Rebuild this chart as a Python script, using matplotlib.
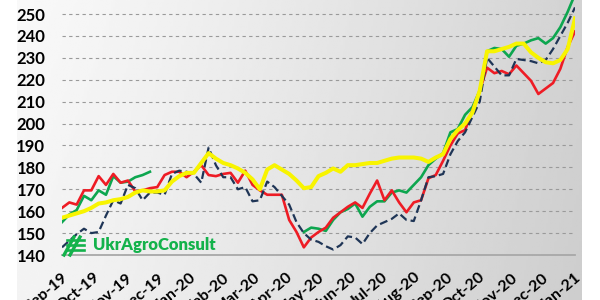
import numpy as np
import pandas as pd
import matplotlib.pyplot as plt
from matplotlib.lines import Line2D

plt.rcParams['font.family'] = ['Lato', 'DejaVu Sans']

# weekly quotes, Sep-19 .. Jan-21
dates = pd.date_range("2019-09-01", "2021-01-01", periods=71)

red = [161.5, 164, 163, 169.5, 169.5, 176, 172, 177, 173, 174,
       169, 169.5, 170.5, 171, 176.5, 178, 178, 175.5, 178, 181,
       176.5, 176, 177, 177.5, 173, 178.5, 172, 169.5, 167.5, 167.5,
       167.5, 156, 150.5, 143.5, 148, 150.5, 152.5, 157, 159.5, 162,
       164, 161.5, 168, 174, 165, 169.5, 164, 159.5, 164, 165,
       175, 176.5, 183, 190, 195.5, 197, 206, 215, 225.5, 223,
       224, 222.5, 226.5, 223, 219.5, 213.5, 216, 218.5, 225, 235,
       242]

navy = [143.5, 146.5, 149.5, 152, 150, 150.5, 158, 165, 163.5, 172,
        170.5, 165, 168.5, 168.5, 167.5, 177, 178.5, 178, 177, 173,
        189, 181, 175.5, 175.5, 170, 171, 164.5, 165, 173.5, 171,
        167, 163, 155, 150, 147, 146, 144, 142.5, 144.5, 148.5,
        148, 145, 150, 153.5, 155, 156.5, 159, 156, 155.5, 165,
        175.5, 176, 177, 186, 192, 196, 203, 210, 230, 226,
        222, 222, 229.5, 229, 228.5, 227.5, 229, 234, 240, 246,
        253]

green = [155, 158.5, 160.5, 167, 165, 169.5, 167.5, 176, 173, 173.5,
         175.5, 176.5, 178] + [np.nan] * 20 + [
         150.5, 152.5, 152, 151, 156, 159.5, 161, 163.5, 157.5, 162,
         164.5, 164.5, 168.5, 169.5, 168.5, 172, 175.5, 181, 184, 186.5,
         196, 197.5, 204, 207.5, 215, 233, 234.5, 234, 230.5, 235.5,
         236.5, 238, 239, 236.5, 239, 244, 251, 259]

yellow = [157, 158, 159, 160, 161.5, 163.5, 164, 165, 165.5, 166.5,
          168.5, 169.5, 169, 169, 169.5, 173.5, 176, 177.5, 177.5, 182,
          186.5, 184, 182, 181, 179.5, 177.5, 174.5, 170, 179, 181,
          179, 177, 174, 170.5, 171, 176, 177.5, 179.5, 178, 181,
          181, 181.5, 182, 182, 183, 184, 184.5, 184.5, 184.5, 184,
          182.5, 184.5, 186, 193, 197, 200, 205, 215, 233, 233,
          234, 235, 236.5, 236.5, 232.5, 230, 228, 227.5, 229, 234,
          248]

month_ticks = pd.date_range("2019-09-01", "2021-01-01", freq="MS")
month_labels = [d.strftime("%b-%y") for d in month_ticks]
y_ticks = list(range(140, 251, 10))

fig = plt.figure(figsize=(6, 3), dpi=100)

# gradient backdrop
bg = fig.add_axes([17 / 600, 0, 565 / 600, 1], zorder=-10)
gx = np.linspace(0, 1, 256)
gy = np.linspace(0, 1, 64)
grad = 0.975 - 0.15 * gx[None, :] ** 1.2 - 0.02 * gy[:, None]
bg.imshow(grad, cmap="gray", vmin=0, vmax=1, aspect="auto",
          extent=[0, 1, 0, 1])
bg.axis("off")

ax = fig.add_axes([62 / 600, 45 / 300, 513 / 600, 255 / 300])
ax.patch.set_alpha(0)

ax.plot(dates, green, color="#0DA64F", linewidth=1.9, zorder=3)
ax.plot(dates, red, color="#EE1C25", linewidth=1.9, zorder=4)
ax.plot(dates, navy, color="#1F3556", linewidth=1.6,
        linestyle=(0, (3.6, 1.8)), zorder=5)
ax.plot(dates, yellow, color="#F8F400", linewidth=2.9, zorder=6)

ax.set_xlim(month_ticks[0], month_ticks[-1])
ax.set_ylim(140, 256.4)
ax.set_yticks(y_ticks)
ax.set_yticklabels([str(v) for v in y_ticks], fontsize=12,
                   fontweight="bold")
ax.set_xticks(month_ticks)
ax.set_xticklabels(month_labels, rotation=40, ha="right",
                   rotation_mode="anchor", fontsize=11.5, fontweight="bold")
ax.tick_params(axis="both", length=0)
ax.tick_params(axis="y", pad=12)
ax.tick_params(axis="x", pad=11)

for v in y_ticks[1:]:
    ax.axhline(v, color="#9A9A9A", linewidth=0.8,
               linestyle=(0, (3, 3)), zorder=1)

for side in ["top", "right", "left"]:
    ax.spines[side].set_visible(False)
ax.spines["bottom"].set_color("#A8A8A8")
ax.spines["bottom"].set_linewidth(1.3)

# logo
logo_green = "#13B24B"
for x0 in [64, 70]:
    fig.add_artist(Line2D([x0 / 600, (x0 + 10) / 600],
                          [(300 - 255) / 300, (300 - 237) / 300],
                          color=logo_green, linewidth=2.4))
for yy in [240, 245, 250]:
    fig.add_artist(Line2D([67 / 600, 84 / 600],
                          [(300 - yy) / 300, (300 - yy) / 300],
                          color=logo_green, linewidth=1.9))
fig.text(93 / 600, (300 - 245) / 300, "UkrAgroConsult", color=logo_green,
         fontsize=12, fontweight="heavy", va="center", ha="left")

fig.savefig("out.png", dpi=100)
